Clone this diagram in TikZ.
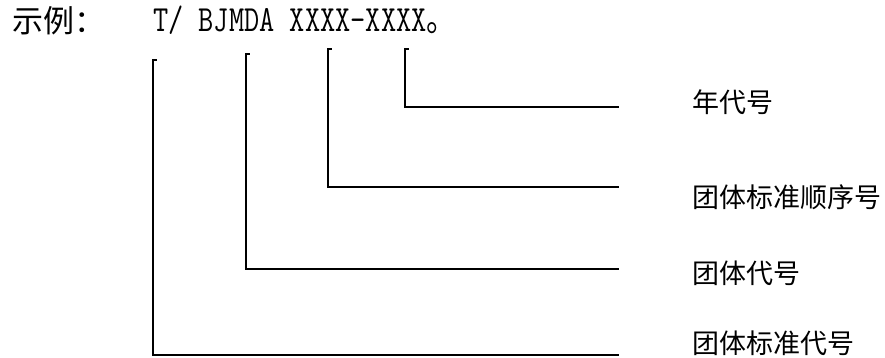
\documentclass[tikz,border=0pt]{standalone}
\usepackage{fontspec}
\newfontfamily\cjk{Noto Sans CJK SC}
\usepackage{tikz}
\usetikzlibrary{positioning,calc}

\tikzset{
  lead/.style={line width=1.6pt, line cap=rect},
  lbl/.style={anchor=west, inner sep=0pt, font=\cjk\fontsize{27}{32}\selectfont}
}

\begin{document}
\begin{tikzpicture}[x=1pt,y=-1pt]
        \useasboundingbox (0,0) rectangle (885,358);

        % Example line
        \node[anchor=base west, inner sep=0pt, font=\cjk\fontsize{31}{36}\selectfont] (ex) at (12,33) {示例：};
        \node[anchor=base west, inner sep=0pt, yscale=1.25, transform shape] (code) at (153,32)
          {\fontsize{29.5}{36}\selectfont\ttfamily T/ BJMDA XXXX-XXXX{\cjk 。}};

        % Labels
        \node[lbl] (year) at (692,102) {年代号};
        \node[lbl] (seq) at (692,197) {团体标准顺序号};
        \node[lbl] (org) at (692,273) {团体代号};
        \node[lbl] (std) at (692,343) {团体标准代号};

        % Tops of the leaders
        \coordinate (tT) at (153,60);
        \coordinate (tOrg) at (246,54);
        \coordinate (tSeq) at (328,49);
        \coordinate (tYear) at (405,49);

        % Ends of the leaders
        \coordinate (eYear) at (618,107);
        \coordinate (eSeq) at (618,187);
        \coordinate (eOrg) at (618,269);
        \coordinate (eStd) at (618,355);

        % Leaders
        \draw[lead] ($(tT)+(3,0)$) -- (tT) |- (eStd);
        \draw[lead] ($(tOrg)+(3,0)$) -- (tOrg) |- (eOrg);
        \draw[lead] ($(tSeq)+(3,0)$) -- (tSeq) |- (eSeq);
        \draw[lead] ($(tYear)+(3,0)$) -- (tYear) |- (eYear);
      \end{tikzpicture}
\end{document}
